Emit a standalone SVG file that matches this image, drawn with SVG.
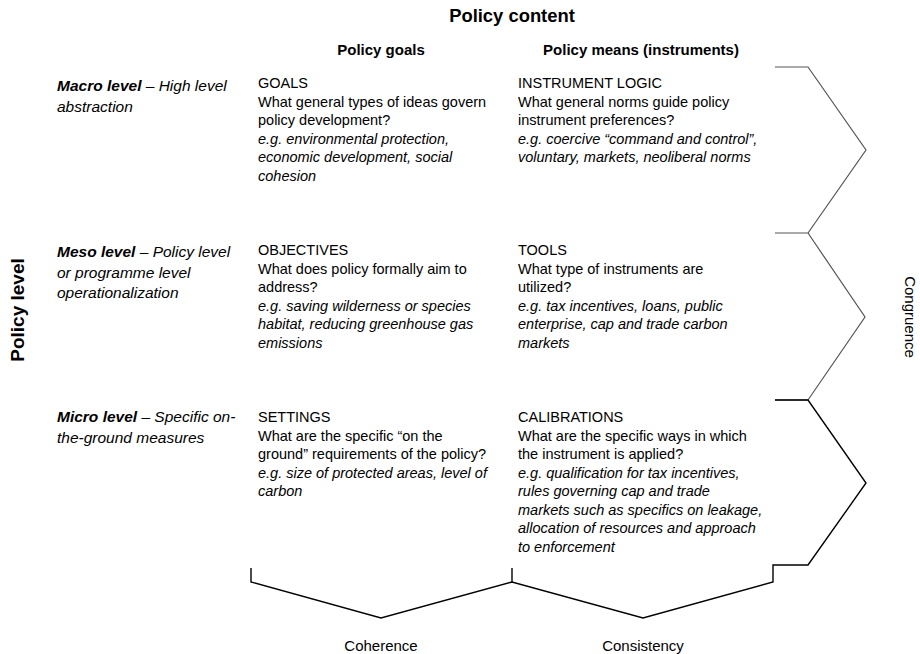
<svg xmlns="http://www.w3.org/2000/svg" width="920" height="654" viewBox="0 0 920 654">
<style>
text{font-family:"Liberation Sans",Arial,sans-serif;fill:#000}
.h{font-weight:bold}
.lv{font-size:15.5px;font-style:italic}
.lv .b{font-weight:bold}
.c{font-size:14.5px}
.i{font-style:italic}
.br{fill:none;stroke:#000;stroke-width:1.4;stroke-linejoin:miter}
.brg{fill:none;stroke:#555;stroke-width:1.2}
</style>
<rect width="920" height="654" fill="#fff"/>
<g id="headers">
<text class="h" x="512" y="22" font-size="18.4" text-anchor="middle">Policy content</text>
<text class="h" x="381" y="55" font-size="15" text-anchor="middle">Policy goals</text>
<text class="h" x="641" y="55" font-size="15" text-anchor="middle">Policy means (instruments)</text>
<text class="h" transform="translate(24,310) rotate(-90)" font-size="19" text-anchor="middle">Policy level</text>
</g>
<g id="levels">
<g id="macro"><text class="lv" x="57" y="91"><tspan class="b">Macro level</tspan> – High level<tspan x="57" dy="20.5">abstraction</tspan></text></g>
<g id="meso"><text class="lv" x="57" y="257"><tspan class="b">Meso level</tspan> – Policy level<tspan x="57" dy="20.5">or programme level</tspan><tspan x="57" dy="20.5">operationalization</tspan></text></g>
<g id="micro"><text class="lv" x="57" y="422"><tspan class="b">Micro level</tspan> – Specific on-<tspan x="57" dy="20.5">the-ground measures</tspan></text></g>
</g>
<g id="goals"><text class="c" x="258" y="88">GOALS<tspan x="258" dy="18.5">What general types of ideas govern</tspan><tspan x="258" dy="18.5">policy development?</tspan><tspan class="i" x="258" dy="18.5">e.g. environmental protection,</tspan><tspan class="i" x="258" dy="18.5">economic development, social</tspan><tspan class="i" x="258" dy="18.5">cohesion</tspan></text></g>
<g id="instrument-logic"><text class="c" x="518" y="88">INSTRUMENT LOGIC<tspan x="518" dy="18.5">What general norms guide policy</tspan><tspan x="518" dy="18.5">instrument preferences?</tspan><tspan class="i" x="518" dy="18.5">e.g. coercive “command and control”,</tspan><tspan class="i" x="518" dy="18.5">voluntary, markets, neoliberal norms</tspan></text></g>
<g id="objectives"><text class="c" x="258" y="255">OBJECTIVES<tspan x="258" dy="18.5">What does policy formally aim to</tspan><tspan x="258" dy="18.5">address?</tspan><tspan class="i" x="258" dy="18.5">e.g. saving wilderness or species</tspan><tspan class="i" x="258" dy="18.5">habitat, reducing greenhouse gas</tspan><tspan class="i" x="258" dy="18.5">emissions</tspan></text></g>
<g id="tools"><text class="c" x="518" y="255">TOOLS<tspan x="518" dy="18.5">What type of instruments are</tspan><tspan x="518" dy="18.5">utilized?</tspan><tspan class="i" x="518" dy="18.5">e.g. tax incentives, loans, public</tspan><tspan class="i" x="518" dy="18.5">enterprise, cap and trade carbon</tspan><tspan class="i" x="518" dy="18.5">markets</tspan></text></g>
<g id="settings"><text class="c" x="258" y="422">SETTINGS<tspan x="258" dy="18.5">What are the specific “on the</tspan><tspan x="258" dy="18.5">ground” requirements of the policy?</tspan><tspan class="i" x="258" dy="18.5">e.g. size of protected areas, level of</tspan><tspan class="i" x="258" dy="18.5">carbon</tspan></text></g>
<g id="calibrations"><text class="c" x="518" y="422">CALIBRATIONS<tspan x="518" dy="18.5">What are the specific ways in which</tspan><tspan x="518" dy="18.5">the instrument is applied?</tspan><tspan class="i" x="518" dy="18.5">e.g. qualification for tax incentives,</tspan><tspan class="i" x="518" dy="18.5">rules governing cap and trade</tspan><tspan class="i" x="518" dy="18.5">markets such as specifics on leakage,</tspan><tspan class="i" x="518" dy="18.5">allocation of resources and approach</tspan><tspan class="i" x="518" dy="18.5">to enforcement</tspan></text></g>
<g id="connectors">
<polyline class="brg" points="775,67 808,67 866,150 808,233 775,233"/>
<polyline class="brg" points="808,233 865,317 808,400 775,400"/>
<polyline class="br" points="775,400 808,400 866,483 808,565 773,565 773,582 643,618 512,582 381,618 251,582 251,568"/>
<line class="br" x1="512" y1="582" x2="512" y2="568"/>
</g>
<g id="labels">
<text transform="translate(905,317) rotate(90)" font-size="15" text-anchor="middle">Congruence</text>
<text x="381" y="651" font-size="15" text-anchor="middle">Coherence</text>
<text x="643" y="651" font-size="15" text-anchor="middle">Consistency</text>
</g>
</svg>
